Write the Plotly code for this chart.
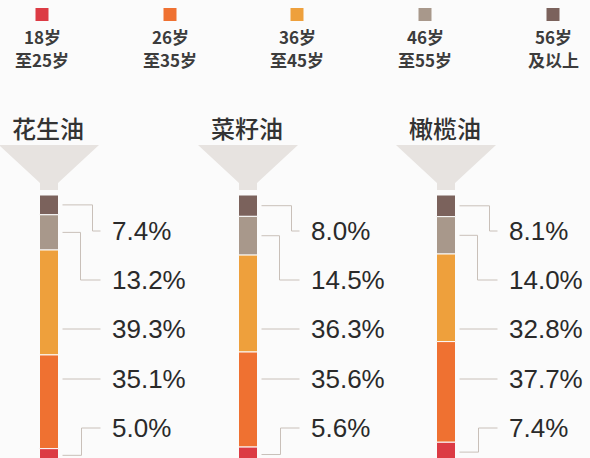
import plotly.graph_objects as go

# ---------------- data ----------------
oils = ["花生油", "菜籽油", "橄榄油"]
age_groups = ["18岁<br>至25岁", "26岁<br>至35岁", "36岁<br>至45岁", "46岁<br>至55岁", "56岁<br>及以上"]
age_18_25 = [5.0, 5.6, 7.4]
age_26_35 = [35.1, 35.6, 37.7]
age_36_45 = [39.3, 36.3, 32.8]
age_46_55 = [13.2, 14.5, 14.0]
age_56_up = [7.4, 8.0, 8.1]
colors = ["#dc3b44", "#ef7131", "#eea03c", "#a8988b", "#7b625c"]

# ---------------- layout helpers ----------------
W, H = 590, 458
BAR_TOP = 195.0          # pixel y of 0 %
PX_PER_PCT = 2.67        # pixels per percent
BG = "#fbfbfb"

def py(p):
    """pixel y -> axis value (percent units)"""
    return (p - BAR_TOP) / PX_PER_PCT

col_x = [49, 248, 446]
bar_w = 19
series_top_down = [age_56_up, age_46_55, age_36_45, age_26_35, age_18_25]
colors_top_down = colors[::-1]

fig = go.Figure()

# stacked bars (top -> bottom)
cum = [0.0, 0.0, 0.0]
for vals, c in zip(series_top_down, colors_top_down):
    fig.add_trace(go.Bar(
        x=col_x, y=vals, base=list(cum), width=bar_w,
        marker=dict(color=c, line=dict(color=BG, width=1)),
        hoverinfo="skip", showlegend=False,
    ))
    cum = [a + b for a, b in zip(cum, vals)]

shapes = []
annotations = []

label_py = [231, 280, 329, 379, 428]
line_col = "#c9c0b9"

for i, cx in enumerate(col_x):
    # funnel
    path = (f"M {cx-50},{py(145)} L {cx+50},{py(145)} L {cx+9},{py(183)} "
            f"L {cx+9},{py(190)} L {cx-9},{py(190)} L {cx-9},{py(183)} Z")
    shapes.append(dict(type="path", xref="x", yref="y", path=path,
                       fillcolor="#e7e3e0", line=dict(width=0), layer="below"))
    # title
    annotations.append(dict(x=cx - 1, y=py(127), xref="x", yref="y", text=oils[i],
                            showarrow=False, xanchor="center", yanchor="middle",
                            font=dict(family="Noto Sans CJK SC", size=24, color="#333333",
                                      weight=500)))

    right = cx + bar_w / 2
    x0 = right + 4
    x_end = right + 42
    # segment midpoints (top-down)
    c = 0.0
    mids = []
    for vals in series_top_down:
        mids.append(c + vals[i] / 2)
        c += vals[i]
    elbows = [right + 34, right + 22, None, None, right + 23]
    for k in range(5):
        ly = py(label_py[k])
        ex = elbows[k]
        if ex is None:
            p = f"M {x0},{ly} L {x_end},{ly}"
        else:
            p = (f"M {x0},{mids[k]} L {ex},{mids[k]} L {ex},{ly} L {x_end},{ly}")
        shapes.append(dict(type="path", xref="x", yref="y", path=p,
                           line=dict(color=line_col, width=1)))
        annotations.append(dict(x=right + 51, y=ly, xref="x", yref="y",
                                text=f"{series_top_down[k][i]:.1f}%",
                                showarrow=False, xanchor="left", yanchor="middle",
                                font=dict(family="Liberation Sans", size=26, color="#2a2a2a")))

# legend
leg_x = [42, 170, 297, 425, 553]
for j, lx in enumerate(leg_x):
    shapes.append(dict(type="rect", xref="x", yref="y",
                       x0=lx - 6.5, x1=lx + 6.5, y0=py(8), y1=py(21),
                       fillcolor=colors[j], line=dict(width=0)))
    l1, l2 = age_groups[j].split("<br>")
    annotations.append(dict(x=lx, y=py(36), xref="x", yref="y", text=l1, showarrow=False,
                            xanchor="center", yanchor="middle",
                            font=dict(family="Noto Sans CJK SC", size=17, color="#3c3c3c",
                                      weight=700)))
    annotations.append(dict(x=lx, y=py(59), xref="x", yref="y", text=l2, showarrow=False,
                            xanchor="center", yanchor="middle",
                            font=dict(family="Noto Sans CJK SC", size=17, color="#3c3c3c",
                                      weight=700)))

fig.update_layout(
    width=W, height=H,
    margin=dict(l=0, r=0, t=0, b=0),
    paper_bgcolor=BG, plot_bgcolor=BG,
    barmode="overlay",
    xaxis=dict(range=[0, W], visible=False, fixedrange=True),
    yaxis=dict(range=[py(H), py(0)], visible=False, fixedrange=True),
    shapes=shapes, annotations=annotations,
    showlegend=False,
)

fig.write_html("out.html", config={"displayModeBar": False},
               post_script="document.body.style.margin='0px';document.body.style.overflow='hidden';")
